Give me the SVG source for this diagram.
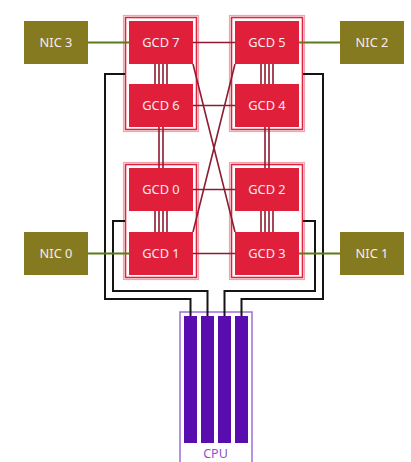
<svg xmlns="http://www.w3.org/2000/svg" width="411" height="462" viewBox="0 0 411 462">
<style>
.gcd{fill:#e01f3b}
.nic{fill:#867a21}
.lbl{font-family:"Noto Sans","DejaVu Sans",sans-serif;font-size:12.8px;fill:#f6ecee;text-anchor:middle}
.fo{fill:none;stroke:#f2a3ae;stroke-width:1.2}
.fi{fill:none;stroke:#e0233f;stroke-width:1.6}
.red{stroke:#8e1c31;stroke-width:1.6;fill:none}
.grn{stroke:#5b7c17;stroke-width:2;fill:none}
.blk{stroke:#141414;stroke-width:2;fill:none}
.bar{fill:#5a0dae}
</style>
<g id="frame-a">
<rect class="fo" x="123.5" y="15.5" width="75" height="116"/>
<rect class="fi" x="125.5" y="17.5" width="71" height="112"/>
</g>
<g id="frame-b">
<rect class="fo" x="229.5" y="15.5" width="75" height="116"/>
<rect class="fi" x="231.5" y="17.5" width="71" height="112"/>
</g>
<g id="frame-c">
<rect class="fo" x="123.5" y="162.5" width="75" height="117"/>
<rect class="fi" x="125.5" y="164.5" width="71" height="113"/>
</g>
<g id="frame-d">
<rect class="fo" x="229.5" y="162.5" width="75" height="117"/>
<rect class="fi" x="231.5" y="164.5" width="71" height="113"/>
</g>
<g id="cpu">
<rect x="180" y="312" width="72" height="160" fill="none" stroke="#9d6fd6" stroke-width="1.5"/>
<rect class="bar" x="184" y="316" width="13" height="127"/>
<rect class="bar" x="201" y="316" width="13" height="127"/>
<rect class="bar" x="218" y="316" width="13" height="127"/>
<rect class="bar" x="235" y="316" width="13" height="127"/>
<text x="215.5" y="458" font-family="Noto Sans, DejaVu Sans, sans-serif" font-size="12.5" fill="#8a50cf" text-anchor="middle">CPU</text>
</g>
<g id="connectors">
<path class="blk" d="M125,74 H105 V299 H190.5 V316"/>
<path class="blk" d="M125,221 H113 V291 H207.5 V316"/>
<path class="blk" d="M303,221 H315 V291 H224.5 V316"/>
<path class="blk" d="M303,74 H323 V299 H241.5 V316"/>
<path class="grn" d="M88,42.5 H129 M299,42.5 H340 M88,253.5 H129 M299,253.5 H340"/>
<path class="red" d="M193,42.5 H235 M193,105.5 H235 M193,189.5 H235 M193,253.5 H235"/>
<path class="red" d="M193,64 L235,232 M235,64 L193,232"/>
<path class="red" d="M155,64 V84 M159,64 V84 M163,64 V84 M167,64 V84"/>
<path class="red" d="M155,211 V232 M159,211 V232 M163,211 V232 M167,211 V232"/>
<path class="red" d="M261,64 V84 M265,64 V84 M269,64 V84 M273,64 V84"/>
<path class="red" d="M261,211 V232 M265,211 V232 M269,211 V232 M273,211 V232"/>
<path class="red" d="M159,127 V168 M163,127 V168 M265,127 V168 M269,127 V168"/>
</g>
<g id="gcd7"><rect class="gcd" x="129" y="21" width="64" height="43"/><text class="lbl" x="161" y="47">GCD 7</text></g>
<g id="gcd6"><rect class="gcd" x="129" y="84" width="64" height="43"/><text class="lbl" x="161" y="110">GCD 6</text></g>
<g id="gcd5"><rect class="gcd" x="235" y="21" width="64" height="43"/><text class="lbl" x="267" y="47">GCD 5</text></g>
<g id="gcd4"><rect class="gcd" x="235" y="84" width="64" height="43"/><text class="lbl" x="267" y="110">GCD 4</text></g>
<g id="gcd0"><rect class="gcd" x="129" y="168" width="64" height="43"/><text class="lbl" x="161" y="194">GCD 0</text></g>
<g id="gcd1"><rect class="gcd" x="129" y="232" width="64" height="43"/><text class="lbl" x="161" y="258">GCD 1</text></g>
<g id="gcd2"><rect class="gcd" x="235" y="168" width="64" height="43"/><text class="lbl" x="267" y="194">GCD 2</text></g>
<g id="gcd3"><rect class="gcd" x="235" y="232" width="64" height="43"/><text class="lbl" x="267" y="258">GCD 3</text></g>
<g id="nic3"><rect class="nic" x="24" y="21" width="64" height="43"/><text class="lbl" x="56" y="47">NIC 3</text></g>
<g id="nic2"><rect class="nic" x="340" y="21" width="64" height="43"/><text class="lbl" x="372" y="47">NIC 2</text></g>
<g id="nic0"><rect class="nic" x="24" y="232" width="64" height="43"/><text class="lbl" x="56" y="258">NIC 0</text></g>
<g id="nic1"><rect class="nic" x="340" y="232" width="64" height="43"/><text class="lbl" x="372" y="258">NIC 1</text></g>
</svg>
